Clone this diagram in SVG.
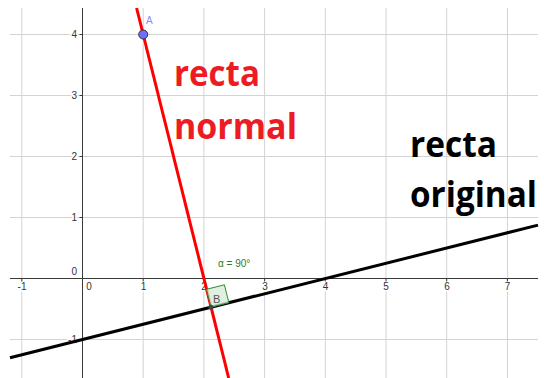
<svg xmlns="http://www.w3.org/2000/svg" width="544" height="378" viewBox="0 0 544 378">
<style>
.grid{stroke:#d3d3d3;stroke-width:1;fill:none}
.axis{stroke:#3a3a3a;stroke-width:1;fill:none}
.tick{font-family:"Liberation Sans",Arial,sans-serif;font-size:10px;fill:#333;stroke:#fff;stroke-width:3;paint-order:stroke;stroke-linejoin:round}
.big{font-family:"Open Sans",sans-serif;font-weight:700;font-size:35px}
</style>
<rect width="544" height="378" fill="#fff"/>
<g id="grid">
<path class="grid" d="M21.8 8V378M143.2 8V378M203.9 8V378M264.6 8V378M325.3 8V378M386 8V378M446.7 8V378M507.4 8V378"/>
<path class="grid" d="M10 34.5H538M10 95.5H538M10 156.5H538M10 217.5H538M10 339.5H538"/>
</g>
<g id="labels">
<text class="tick" x="22" y="290" text-anchor="middle">-1</text>
<text class="tick" x="89" y="290" text-anchor="middle">0</text>
<text class="tick" x="143.5" y="290" text-anchor="middle">1</text>
<text class="tick" x="204" y="290" text-anchor="middle">2</text>
<text class="tick" x="265" y="290" text-anchor="middle">3</text>
<text class="tick" x="325.5" y="290" text-anchor="middle">4</text>
<text class="tick" x="386" y="290" text-anchor="middle">5</text>
<text class="tick" x="447" y="290" text-anchor="middle">6</text>
<text class="tick" x="507.5" y="290" text-anchor="middle">7</text>
<text class="tick" x="77" y="38" text-anchor="end">4</text>
<text class="tick" x="77" y="99" text-anchor="end">3</text>
<text class="tick" x="77" y="160" text-anchor="end">2</text>
<text class="tick" x="77" y="221" text-anchor="end">1</text>
<text class="tick" x="77" y="275" text-anchor="end">0</text>
<text class="tick" x="77" y="343" text-anchor="end">-1</text>
</g>
<g id="axes">
<path class="axis" d="M10 278.5H538M82.5 8V378"/>
<path class="axis" d="M21.8 278.5v3M143.2 278.5v3M203.9 278.5v3M264.6 278.5v3M325.3 278.5v3M386 278.5v3M446.7 278.5v3M507.4 278.5v3M82.5 34.5h-3M82.5 95.5h-3M82.5 156.5h-3M82.5 217.5h-3M82.5 339.5h-3"/>
</g>
<g id="connectors">
<line id="recta-original" x1="10" y1="357.7" x2="538" y2="225.1" stroke="#000" stroke-width="3"/>
<line id="recta-normal" x1="136.6" y1="8" x2="228.7" y2="378" stroke="#ff0000" stroke-width="3"/>
</g>
<g id="angle">
<path d="M211 307.2L228.9 302.7L224.4 284.8L206.5 289.3Z" fill="#d8ecd8" fill-opacity="0.8" stroke="#2e8b2e" stroke-width="1"/>
<text x="213" y="303" font-family="'Liberation Sans',Arial,sans-serif" font-size="11" fill="#555">B</text>
<circle cx="211" cy="307.2" r="2.5" fill="#444"/>
<text x="218" y="267" font-family="'Liberation Sans',Arial,sans-serif" font-size="10" fill="#2a7a2a">α = 90°</text>
</g>
<g id="pointA">
<circle cx="143.2" cy="34.5" r="4.5" fill="#7070ff" stroke="#333" stroke-width="1"/>
<text x="146" y="24" font-family="'Liberation Sans',Arial,sans-serif" font-size="10" fill="#8a8aff">A</text>
</g>
<g id="text-normal">
<text class="big" x="174" y="86" fill="#ed1c24" textLength="86" lengthAdjust="spacingAndGlyphs">recta</text>
<text class="big" x="174" y="139" fill="#ed1c24" textLength="123" lengthAdjust="spacingAndGlyphs">normal</text>
</g>
<g id="text-original">
<text class="big" x="410" y="157" fill="#000" textLength="87" lengthAdjust="spacingAndGlyphs">recta</text>
<text class="big" x="410" y="207" fill="#000" textLength="127" lengthAdjust="spacingAndGlyphs">original</text>
</g>
</svg>
